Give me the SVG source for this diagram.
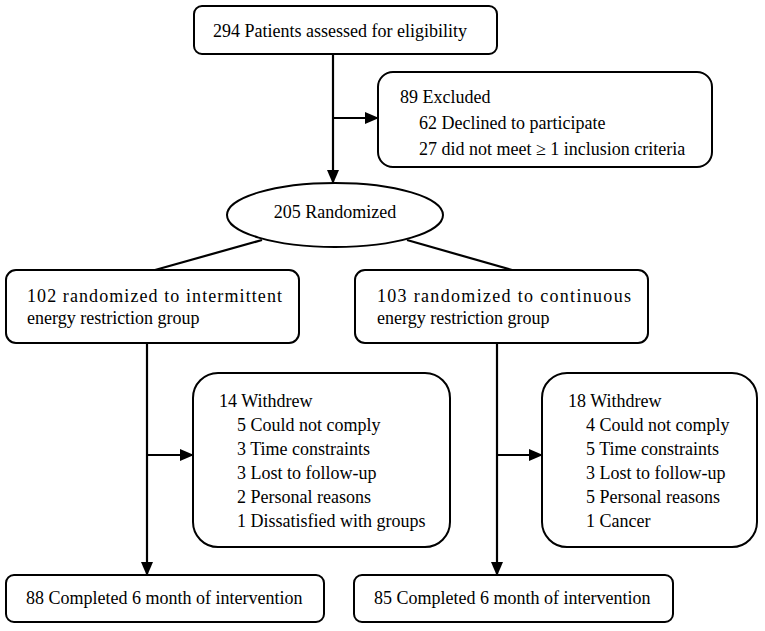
<svg xmlns="http://www.w3.org/2000/svg" width="765" height="631" viewBox="0 0 765 631">
<style>
.box{fill:#fff;stroke:#000;stroke-width:2}
.ln{fill:none;stroke:#000;stroke-width:2.2}
text{font-family:"Liberation Serif","Times New Roman",serif;font-size:18px;fill:#000}
</style>
<defs>
<marker id="ah" viewBox="0 0 14 12" refX="13" refY="6" markerWidth="14" markerHeight="12" markerUnits="userSpaceOnUse" orient="auto">
<path d="M0,0 L14,6 L0,12 Z" fill="#000"/>
</marker>
</defs>
<rect width="765" height="631" fill="#fff"/>
<g id="connectors">
<line class="ln" x1="333" y1="54" x2="333" y2="183" marker-end="url(#ah)"/>
<line class="ln" x1="333" y1="118" x2="378" y2="118" marker-end="url(#ah)"/>
<line class="ln" x1="262" y1="240" x2="155" y2="270"/>
<line class="ln" x1="407" y1="240" x2="512" y2="270"/>
<line class="ln" x1="147" y1="343" x2="147" y2="575" marker-end="url(#ah)"/>
<line class="ln" x1="147" y1="455" x2="193" y2="455" marker-end="url(#ah)"/>
<line class="ln" x1="497" y1="343" x2="497" y2="575" marker-end="url(#ah)"/>
<line class="ln" x1="497" y1="455" x2="542" y2="455" marker-end="url(#ah)"/>
</g>
<g id="assessed">
<rect class="box" x="194" y="6" width="303" height="48" rx="8"/>
<text x="213" y="37">294 Patients assessed for eligibility</text>
</g>
<g id="excluded">
<rect class="box" x="378" y="72" width="334" height="95" rx="15"/>
<text x="400" y="103">89 Excluded</text>
<text x="419" y="129">62 Declined to participate</text>
<text x="419" y="155">27 did not meet ≥ 1 inclusion criteria</text>
</g>
<g id="randomized">
<ellipse class="box" cx="335" cy="215" rx="108" ry="32"/>
<text x="335" y="218" text-anchor="middle">205 Randomized</text>
</g>
<g id="ier">
<rect class="box" x="6" y="270" width="293" height="73" rx="10"/>
<text x="27" y="302" textLength="255" lengthAdjust="spacing">102 randomized to intermittent</text>
<text x="27" y="324">energy restriction group</text>
</g>
<g id="cer">
<rect class="box" x="355" y="270" width="293" height="73" rx="10"/>
<text x="377" y="302" textLength="254" lengthAdjust="spacing">103 randomized to continuous</text>
<text x="377" y="324">energy restriction group</text>
</g>
<g id="withdrew-ier">
<rect class="box" x="193" y="373" width="257" height="174" rx="25"/>
<text x="219" y="407">14 Withdrew</text>
<text x="237" y="431">5 Could not comply</text>
<text x="237" y="455">3 Time constraints</text>
<text x="237" y="479">3 Lost to follow-up</text>
<text x="237" y="503">2 Personal reasons</text>
<text x="237" y="527">1 Dissatisfied with groups</text>
</g>
<g id="withdrew-cer">
<rect class="box" x="542" y="373" width="215" height="174" rx="25"/>
<text x="568" y="407">18 Withdrew</text>
<text x="586" y="431">4 Could not comply</text>
<text x="586" y="455">5 Time constraints</text>
<text x="586" y="479">3 Lost to follow-up</text>
<text x="586" y="503">5 Personal reasons</text>
<text x="586" y="527">1 Cancer</text>
</g>
<g id="completed-ier">
<rect class="box" x="6" y="575" width="318" height="47" rx="8"/>
<text x="26" y="604">88 Completed 6 month of intervention</text>
</g>
<g id="completed-cer">
<rect class="box" x="354" y="575" width="319" height="47" rx="8"/>
<text x="374" y="604">85 Completed 6 month of intervention</text>
</g>
</svg>
